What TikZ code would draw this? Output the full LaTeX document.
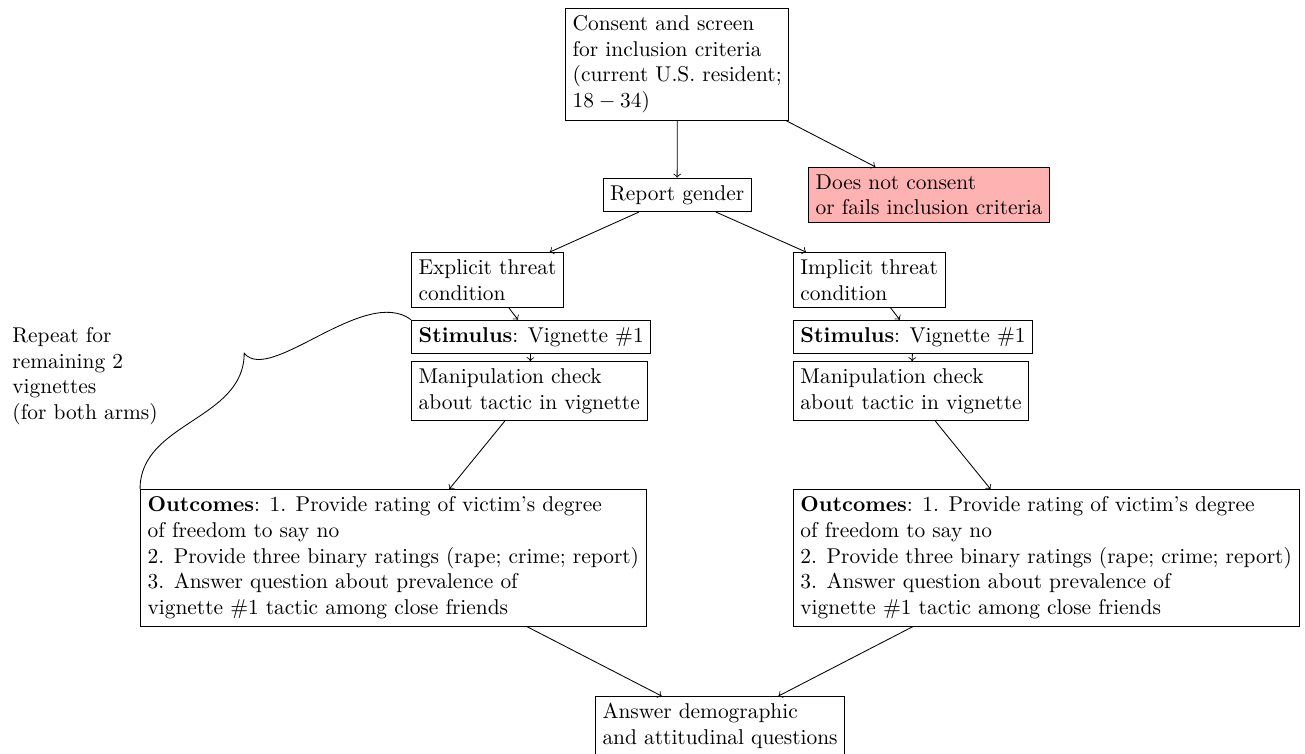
\documentclass[tikz,border=0pt]{standalone}
\usetikzlibrary{calc}
\tikzset{
  box/.style={draw, align=left, anchor=north west},
  arr/.style={->},
}
\begin{document}
\begin{tikzpicture}
			%%%%% START %%%%%
			\useasboundingbox (0,0) rectangle (21.43,-12.38);
			
			\node[box] (consent) at (9.28,-0.13) {Consent and screen\\for inclusion criteria\\(current U.S. resident;\\$18-34$)};
			\node[draw] (gender) at (11.12,-3.20) {Report gender};
			\node[box, fill=red!30] (fail) at (13.27,-2.74) {Does not consent\\or fails inclusion criteria};
			
			\node[box] (explicit) at (6.75,-4.14) {Explicit threat\\condition};
			\node[box] (stimL) at (6.75,-5.25) {\textbf{Stimulus}: Vignette \#1};
			\node[box] (manipL) at (6.75,-5.93) {Manipulation check\\about tactic in vignette};
			\node[box] (outL) at (2.30,-8.03) {\textbf{Outcomes}: 1. Provide rating of victim's degree\\of freedom to say no\\2. Provide three binary ratings (rape; crime; report)\\3. Answer question about prevalence of\\vignette \#1 tactic among close friends};
			
			\node[box] (implicit) at (13.02,-4.14) {Implicit threat\\condition};
			\node[box] (stimR) at (13.02,-5.25) {\textbf{Stimulus}: Vignette \#1};
			\node[box] (manipR) at (13.02,-5.93) {Manipulation check\\about tactic in vignette};
			\node[box] (outR) at (13.02,-8.03) {\textbf{Outcomes}: 1. Provide rating of victim's degree\\of freedom to say no\\2. Provide three binary ratings (rape; crime; report)\\3. Answer question about prevalence of\\vignette \#1 tactic among close friends};
			
			\node[box] (answer) at (9.77,-11.43) {Answer demographic\\and attitudinal questions};
			
			\node[anchor=north west, align=left] (note) at (0.08,-5.25) {Repeat for\\remaining 2\\vignettes\\(for both arms)};
			
			\draw[arr] (consent) -- (gender);
			\draw[arr] (consent) -- (fail);
			\draw[arr] (gender) -- (explicit);
			\draw[arr] (gender) -- (implicit);
			
			\draw[arr] (explicit) -- (stimL);
			\draw[arr] (stimL) -- (manipL);
			\draw[arr] (manipL) -- (outL);
			\draw[arr] (implicit) -- (stimR);
			\draw[arr] (stimR) -- (manipR);
			\draw[arr] (manipR) -- (outR);
			
			\draw[arr] (outL) -- (answer);
			\draw[arr] (outR) -- (answer);
			
			\coordinate (cusp) at (4.01,-5.80);
			\draw (outL.north west) to[out=90, in=-90] (cusp) .. controls (4.43,-6.32) and (5.99,-4.68) .. (stimL.north west);
			
			%%%%% END %%%%%
\end{tikzpicture}
\end{document}
